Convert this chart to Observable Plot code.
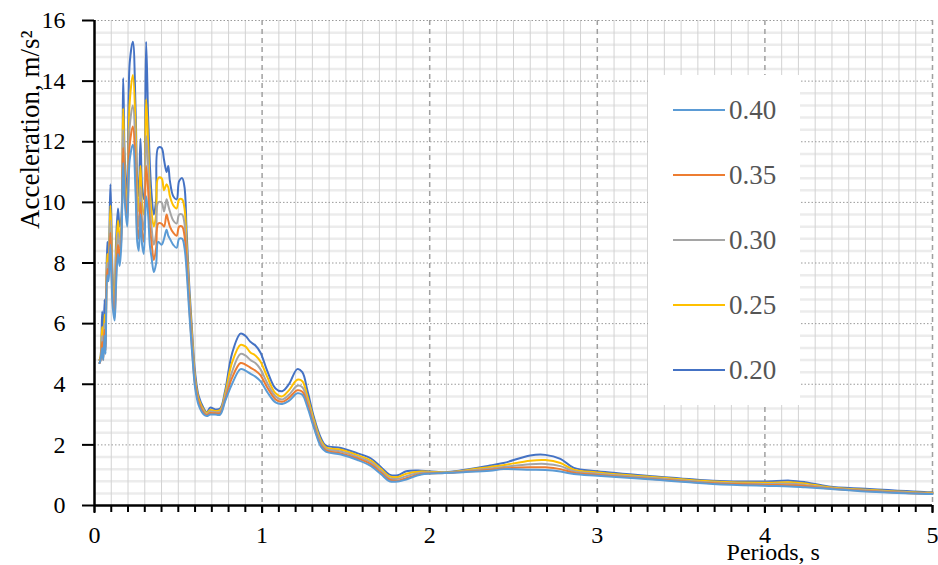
<!DOCTYPE html>
<html><head><meta charset="utf-8">
<script src="https://cdn.jsdelivr.net/npm/d3@7"></script>
<script src="https://cdn.jsdelivr.net/npm/@observablehq/plot@0.6"></script>
<style>
body{margin:0;background:#fff;}
#wrap{position:relative;width:938px;height:565px;font-family:"Liberation Serif",serif;overflow:hidden;}
#legend{position:absolute;left:648px;top:75px;width:152px;height:330px;background:#fff;}
</style></head><body><div id="wrap"></div>
<script>
// Periods, s
const periods = [
 0.03,0.036,0.046,0.052,0.06,0.066,0.076,0.084,0.095,0.108,
 0.12,0.128,0.14,0.15,0.16,0.171,0.181,0.195,0.21,0.229,
 0.245,0.255,0.264,0.274,0.284,0.294,0.308,0.32,0.33,0.34,
 0.354,0.368,0.38,0.4,0.415,0.43,0.44,0.45,0.47,0.49,
 0.505,0.523,0.537,0.55,0.565,0.583,0.6,0.622,0.652,0.67,
 0.69,0.72,0.75,0.78,0.82,0.871,0.9,0.93,0.96,0.99,
 1.03,1.08,1.12,1.16,1.21,1.24,1.27,1.31,1.35,1.38,
 1.47,1.57,1.65,1.71,1.76,1.81,1.86,1.95,2.09,2.2,
 2.36,2.44,2.6,2.69,2.78,2.86,3.0,3.35,3.69,3.99,
 4.15,4.24,4.38,4.6,4.97,5.0];
// Acceleration, m/s2, per series
const s020 = [
 4.8,4.9,6.4,5.1,6.8,5.4,8.7,8.3,10.6,7.6,
 6.4,8.6,9.8,9.2,9.5,14.1,11.4,10.3,14.6,15.3,
 13.1,10.8,10.2,12.1,10.5,10.1,15.3,12.8,11.3,10.3,
 9.6,10.1,11.8,11.8,11.4,11.0,11.2,10.7,10.2,10.1,
 10.7,10.8,10.5,9.0,7.3,5.7,4.4,3.6,3.2,3.07,
 3.23,3.17,3.2,3.8,5.0,5.67,5.6,5.4,5.28,5.05,
 4.45,3.86,3.77,4.0,4.5,4.4,3.8,2.9,2.24,1.98,
 1.9,1.72,1.55,1.26,1.02,1.0,1.13,1.15,1.1,1.17,
 1.32,1.4,1.65,1.67,1.54,1.24,1.13,0.96,0.82,0.79,
 0.82,0.77,0.63,0.55,0.44,0.44];
const s025 = [
 4.8,4.9,5.9,5.0,6.3,5.3,8.3,8.0,9.9,7.3,
 6.3,8.2,9.4,8.8,9.2,13.1,10.9,9.9,13.3,14.2,
 12.5,10.2,9.7,11.2,9.9,9.6,13.4,12.0,10.4,9.7,
 9.2,9.6,10.8,10.8,10.4,10.6,10.5,10.2,9.9,9.8,
 10.1,10.1,9.8,8.6,7.0,5.5,4.2,3.5,3.15,3.05,
 3.15,3.12,3.15,3.7,4.7,5.3,5.25,5.05,4.95,4.75,
 4.25,3.7,3.6,3.8,4.15,4.1,3.6,2.8,2.15,1.92,
 1.84,1.66,1.48,1.2,0.96,0.94,1.05,1.12,1.09,1.15,
 1.27,1.33,1.48,1.5,1.4,1.18,1.09,0.93,0.79,0.75,
 0.77,0.73,0.6,0.52,0.42,0.42];
const s030 = [
 4.7,4.8,5.6,4.9,6.0,5.2,8.0,7.8,9.4,7.0,
 6.3,7.8,9.0,8.5,9.0,12.4,10.6,9.6,12.5,13.2,
 11.7,9.6,9.2,10.5,9.4,9.1,12.2,11.2,9.8,9.2,
 8.6,9.0,10.0,10.0,9.7,10.1,9.9,9.7,9.4,9.3,
 9.6,9.6,9.3,8.3,6.8,5.3,4.1,3.4,3.1,3.0,
 3.1,3.08,3.1,3.6,4.4,5.0,4.95,4.8,4.7,4.5,
 4.05,3.6,3.5,3.65,3.95,3.9,3.45,2.7,2.08,1.87,
 1.78,1.6,1.42,1.14,0.9,0.88,0.97,1.08,1.08,1.13,
 1.22,1.27,1.36,1.37,1.3,1.13,1.05,0.9,0.76,0.71,
 0.72,0.68,0.58,0.5,0.4,0.4];
const s035 = [
 4.7,4.8,5.4,4.8,5.8,5.1,7.8,7.6,9.0,6.8,
 6.2,7.5,8.6,8.2,8.8,11.8,10.3,9.4,11.9,12.5,
 11.0,9.1,8.8,10.0,9.0,8.7,11.2,10.4,9.2,8.7,
 8.1,8.5,9.3,9.3,9.2,9.6,9.4,9.2,9.0,8.9,
 9.2,9.2,8.9,8.0,6.6,5.1,4.0,3.4,3.05,2.98,
 3.05,3.04,3.05,3.5,4.2,4.7,4.65,4.55,4.45,4.3,
 3.9,3.5,3.42,3.55,3.8,3.75,3.35,2.6,2.0,1.82,
 1.72,1.55,1.36,1.08,0.85,0.82,0.9,1.04,1.07,1.11,
 1.18,1.22,1.26,1.26,1.2,1.08,1.01,0.87,0.73,0.68,
 0.67,0.64,0.56,0.48,0.39,0.39];
const s040 = [
 4.7,4.8,5.2,4.8,5.6,5.0,7.6,7.4,8.6,6.6,
 6.1,7.2,8.3,7.9,8.6,11.3,10.0,9.2,11.4,11.9,
 10.3,8.7,8.4,9.6,8.6,8.3,10.2,9.6,8.6,8.2,
 7.7,8.0,8.7,8.6,8.8,9.1,8.9,8.8,8.6,8.5,
 8.8,8.8,8.5,7.7,6.4,5.0,3.9,3.3,3.0,2.95,
 3.0,3.0,3.0,3.45,4.0,4.5,4.45,4.35,4.25,4.1,
 3.75,3.4,3.35,3.45,3.7,3.65,3.25,2.55,1.95,1.78,
 1.68,1.5,1.3,1.03,0.8,0.79,0.86,1.02,1.07,1.1,
 1.15,1.2,1.18,1.17,1.12,1.04,0.98,0.85,0.71,0.65,
 0.63,0.6,0.55,0.46,0.38,0.38];

const seriesNames = ["0.20","0.25","0.30","0.35","0.40"];
const seriesValues = [s020, s025, s030, s035, s040];
const legendOrder = ["0.40","0.35","0.30","0.25","0.20"];
const xTickLabels = [0,1,2,3,4,5];
const yTickLabels = [0,2,4,6,8,10,12,14,16];

const colors = {"0.20":"#4472C4","0.25":"#FFC000","0.30":"#A5A5A5","0.35":"#ED7D31","0.40":"#5B9BD5"};

const table = [];
seriesNames.forEach((name, si) => {
  periods.forEach((t, i) => table.push({k: name, T: t, A: seriesValues[si][i]}));
});

const xMinor = d3.range(1, 50).map(i => i / 10).filter(v => Math.abs(v - Math.round(v)) > 1e-6);
const xAllTicks = d3.range(0, 51).map(i => i / 10);
const yMinor = d3.range(1, 40).map(i => +(i * 0.4).toFixed(2)).filter(v => Math.abs(v / 2 - Math.round(v / 2)) > 1e-6);

const font = "'Liberation Serif', serif";
const chart = Plot.plot({
  width: 938, height: 565,
  marginLeft: 94, marginRight: 6, marginTop: 20, marginBottom: 60,
  x: {domain: [0, 5]},
  y: {domain: [0, 16]},
  color: {domain: seriesNames, range: seriesNames.map(n => colors[n])},
  style: {fontFamily: font, fontSize: "24px", color: "#000", background: "#fff", overflow: "visible"},
  marks: [
    Plot.ruleY(yMinor, {stroke: "#ececec", strokeWidth: 2.5}),
    Plot.ruleX(xMinor, {stroke: "#d2d2d2", strokeWidth: 1}),
    Plot.ruleY(yTickLabels.filter(v => v > 0), {stroke: "#9a9a9a", strokeWidth: 1, strokeDasharray: "1.5,2"}),
    Plot.ruleX(xTickLabels.filter(v => v > 0), {stroke: "#a0a0a0", strokeWidth: 1.5, strokeDasharray: "5,4"}),
    Plot.line(table, {x: "T", y: "A", z: "k", stroke: "k", curve: "catmull-rom", strokeWidth: 2}),
    Plot.axisX({ticks: xAllTicks, tickSize: 7, tickFormat: () => "", strokeWidth: 2, label: null}),
    Plot.axisX({ticks: xTickLabels, tickSize: 8, tickPadding: 12, tickFormat: d => String(d), strokeWidth: 2, fontSize: 24, label: null}),
    Plot.axisY({ticks: yTickLabels, tickSize: 12, tickPadding: 17, tickFormat: d => String(d), strokeWidth: 2, fontSize: 24, label: null}),
    Plot.ruleY([0], {stroke: "#000", strokeWidth: 2.5}),
    Plot.ruleX([0], {stroke: "#000", strokeWidth: 2.5, y1: 0, y2: 16}),
    Plot.text(["Acceleration, m/s²"], {x: () => 0, y: () => 12.4, rotate: -90, dx: -64, fontSize: 27, fill: "#000"}),
    Plot.text(["Periods, s"], {x: () => 4.05, y: () => 0, dy: 47, fontSize: 24, fill: "#000"})
  ]
});

const wrap = document.getElementById("wrap");
wrap.appendChild(chart);

// legend
const legend = document.createElement("div");
legend.id = "legend";
const ns = "http://www.w3.org/2000/svg";
const lsvg = document.createElementNS(ns, "svg");
lsvg.setAttribute("width", 152); lsvg.setAttribute("height", 330);
legendOrder.forEach((name, i) => {
  const y = 35 + i * 65;
  const ln = document.createElementNS(ns, "line");
  ln.setAttribute("x1", 25); ln.setAttribute("x2", 77);
  ln.setAttribute("y1", y); ln.setAttribute("y2", y);
  ln.setAttribute("stroke", colors[name]); ln.setAttribute("stroke-width", 2);
  lsvg.appendChild(ln);
  const tx = document.createElementNS(ns, "text");
  tx.setAttribute("x", 81); tx.setAttribute("y", y + 9);
  tx.setAttribute("font-family", font);
  tx.setAttribute("font-size", 27); tx.setAttribute("fill", "#555");
  tx.textContent = name;
  lsvg.appendChild(tx);
});
legend.appendChild(lsvg);
wrap.appendChild(legend);
</script>
</body></html>
